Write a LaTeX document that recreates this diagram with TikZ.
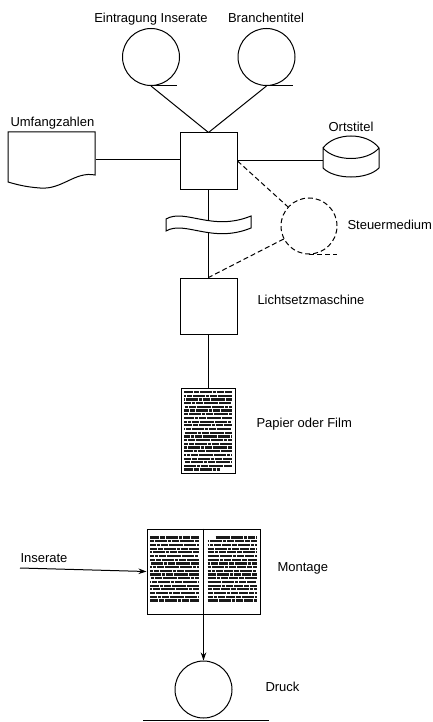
\documentclass[tikz,border=0pt]{standalone}
\usepackage{fontspec}
\setmainfont{Liberation Sans}
\usetikzlibrary{arrows.meta, positioning}

\begin{document}
\begin{tikzpicture}[x=1pt, y=-1pt, node distance=88pt, line width=1pt,
    box/.style={rectangle, draw, minimum width=57pt, minimum height=56pt, inner sep=0pt},
    roll/.style={circle, draw, minimum size=57pt, inner sep=0pt},
    shell/.style={rectangle, inner sep=0pt},
    lbl/.style={font=\fontsize{13}{15}\selectfont, inner sep=0pt},
    head/.style={lbl, anchor=base},
    tag/.style={lbl, anchor=base west},
    feed/.style={-{Stealth[length=8pt, width=5.5pt]}},
    ctrl/.style={dash pattern=on 5pt off 3pt},
    textrow/.style={line width=2.2pt, black!90, dash pattern=on 9pt off 0.9pt on 5pt off 0.9pt on 12pt off 0.9pt on 3pt off 0.9pt on 7pt off 0.9pt}]
  \useasboundingbox (0,0) rectangle (432,722);

  % input rolls
  \node (ins) [roll] at (151,57) {};
  \node (bra) [roll] at (266.5,57) {};
  \draw (ins.south) -- ++(26,0);
  \draw (bra.south) -- ++(26,0);
  \node (insl) [head] at (151,22.7) {Eintragung Inserate};
  \node (bral) [head] at (266,22.7) {Branchentitel};

  % central unit
  \node (hub) [box] at (208.5,161) {};
  \draw (ins.south) -- (hub.north);
  \draw (bra.south) -- (hub.north);

  % document
  \node (umf) [shell, minimum width=87pt, minimum height=56pt] at (51.5,160) {};
  \draw (95,175) .. controls (75,171) and (62,190) .. (40,188) .. controls (25,187) and (15,184) .. (8,182) -- (8,132) -- (95,132) -- cycle;
  \node (umfl) [tag] at (10,126.7) {Umfangzahlen};
  \draw (umf.east) -- (hub.west |- umf.east);

  % drum
  \node (ort) [shell, minimum width=56pt, minimum height=40pt] at (351,158) {};
  \draw (323,148) .. controls (335,132) and (367,132) .. (379,148) .. controls (367,162) and (335,162) .. (323,148) -- (323,168) .. controls (335,180) and (367,180) .. (379,168) -- (379,148);
  \node (ortl) [head] at (351,131.7) {Ortstitel};
  \draw (hub.east) -- (hub.east -| ort.west);

  % control medium
  \node (ste) [roll, ctrl, minimum size=56pt] at (309,226) {};
  \draw[ctrl] (ste.south) -- ++(28,0);
  \node (stel) [tag] at (347,229.7) {Steuermedium};

  % typesetter
  \node (licht) [box, below=of hub] {};
  \node (lichtl) [tag] at (257,304.7) {Lichtsetzmaschine};
  \draw (hub.south) -- (licht.north);
  \draw[ctrl] (hub.east) -- (ste);
  \draw[ctrl] (ste) -- (licht.north);

  % punched tape
  \node (tape) [shell, minimum width=85pt, minimum height=17pt] at (208,224) {};
  \draw[fill=white] (166,219) .. controls (185,208) and (212,232) .. (251,216) -- (251,228) .. controls (212,244) and (185,220) .. (166,231) -- cycle;

  % paper or film
  \node (pap) [shell, draw, minimum width=54pt, minimum height=85pt, below=53pt of licht] {};
  \node (papl) [tag] at (256,427.7) {Papier oder Film};
  \draw (licht.south) -- (pap.north);
  \foreach \r [evaluate=\r as \ph using {mod(\r*7,31)}] in {0,...,20}
    \draw[textrow, dash phase=\ph pt] ([xshift=3pt, yshift={-4.5pt-\r*3.7pt}]pap.north west) -- ++(48,0);
  \draw[textrow] ([xshift=3pt, yshift=-82pt]pap.north west) -- ++(36,0);

  % montage
  \node (mont) [shell, draw, minimum width=113pt, minimum height=85pt, below=55pt of pap, xshift=-5pt] {};
  \draw (mont.north) -- (mont.south);
  \foreach \r [evaluate=\r as \ph using {mod(\r*11,31)}] in {0,...,17}
    \draw[textrow, dash phase=\ph pt] ([xshift=3.5pt, yshift={-9pt-\r*3.7pt}]mont.north west) -- ++(49,0);
  \draw[textrow] ([xshift=12pt, yshift=-9pt]mont.north) -- ++(41,0);
  \foreach \r [evaluate=\r as \ph using {mod(\r*13,31)}] in {1,...,17}
    \draw[textrow, dash phase=\ph pt] ([xshift=4pt, yshift={-9pt-\r*3.7pt}]mont.north) -- ++(49,0);
  \node (montl) [tag] at (277,571.7) {Montage};
  \coordinate (insfeed) at (20,568);
  \draw[feed] (insfeed) -- (mont.west);
  \node (insfl) [tag] at (20,562.7) {Inserate};

  % printing
  \node (dru) [roll, below=46pt of mont] {};
  \draw[feed] (mont.south) -- (dru.north);
  \draw ([xshift=-60.5pt, yshift=-1.5pt]dru.south) -- ++(126,0);
  \draw ([xshift=-60.5pt, yshift=-5.5pt]dru.south) -- ++(126,0);
  \node (drul) [tag] at (265,691.7) {Druck};
\end{tikzpicture}
\end{document}
